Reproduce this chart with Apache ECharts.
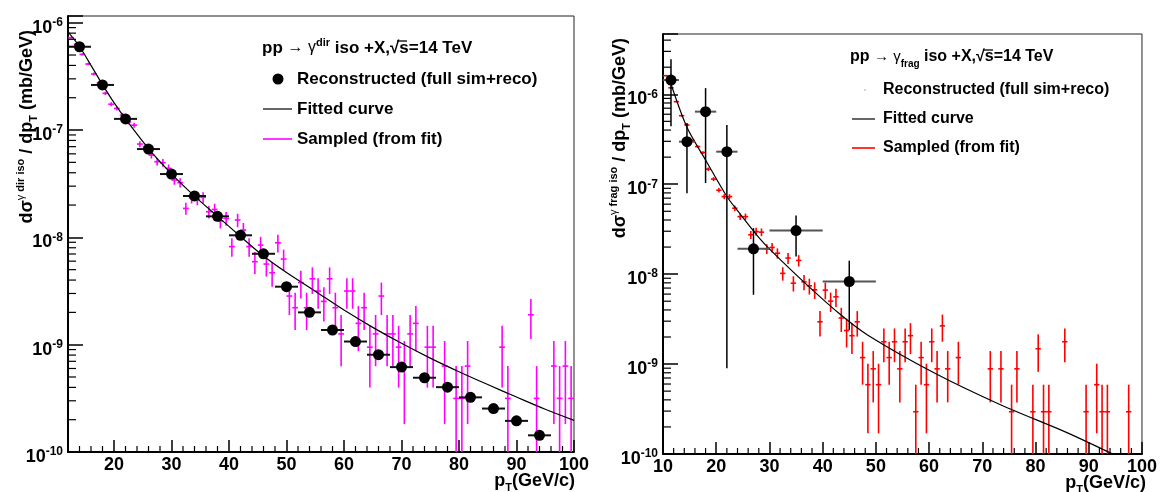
<!DOCTYPE html>
<html><head><meta charset="utf-8">
<script src="https://cdn.jsdelivr.net/npm/echarts@6/dist/echarts.min.js"></script>
<style>html,body{margin:0;padding:0;background:#fff}#c{width:1160px;height:492px}</style>
</head><body><div id="c"></div>
<script>
// ---------------- DATA ----------------
// Left panel: pp -> gamma^dir iso
const dirRecoX = [14,18,22,26,30,34,38,42,46,50,54,58,62,66,70,74,78,82,86,90,94];
const dirRecoY = [5.97e-7,2.63e-7,1.27e-7,6.65e-8,3.89e-8,2.43e-8,1.57e-8,1.045e-8,7.03e-9,3.47e-9,2.0e-9,1.37e-9,1.07e-9,8.06e-10,6.18e-10,4.92e-10,4.02e-10,3.23e-10,2.54e-10,1.95e-10,1.43e-10];
const dirRecoXErr = [2,2,2,2,2,2,2,2,2,2,2,2,2,2,2,2,2,2,2,2,2];

const dirFitX = [12,14,16,18,20,22,26,30,34,38,42,46,50,55,60,65,70,75,80,85,90,95,100];
const dirFitY = [8.2e-7,6.0e-7,4.0e-7,2.65e-7,1.8e-7,1.27e-7,6.7e-8,3.9e-8,2.42e-8,1.57e-8,1.02e-8,6.7e-9,4.7e-9,3.15e-9,2.1e-9,1.45e-9,1.03e-9,7.5e-10,5.6e-10,4.25e-10,3.25e-10,2.5e-10,1.97e-10];

const dirSampX = [12.5,13.5,14.5,15.5,16.5,17.5,18.5,19.5,20.5,21.5,
  22.5,23.5,24.5,25.5,26.5,27.5,28.5,29.5,30.5,31.5,
  32.5,33.5,34.5,35.5,36.5,37.5,38.5,39.5,40.5,41.5,
  42.5,43.5,44.5,45.5,46.5,47.5,48.5,49.5,50.5,51.5,
  52.5,53.5,54.5,55.5,56.5,57.5,58.5,59.5,60.5,61.5,
  62.5,63.5,64.5,65.5,66.5,67.5,68.5,69.5,70.5,71.5,
  72.5,74.5,75.5,77.5,79.5,80.5,81.5,87.5,88.5,92.5,93.5,96.5,97.5,98.5,99.5];
const dirSampY = [7.25e-7,6.3e-7,5.07e-7,4.12e-7,3.33e-7,2.75e-7,2.2e-7,1.74e-7,1.59e-7,1.38e-7,
  1.19e-7,1.11e-7,7.4e-8,6.98e-8,5.85e-8,5.07e-8,4.96e-8,4.4e-8,3.42e-8,3.23e-8,
  1.86e-8,2.34e-8,2.26e-8,2.36e-8,1.73e-8,1.82e-8,1.42e-8,1.5e-8,8.2e-9,1.45e-8,
  1.17e-8,8.2e-9,5.93e-9,8.47e-9,5.64e-9,4.68e-9,8.9e-9,6.28e-9,2.84e-9,2.21e-9,
  3.79e-9,2.21e-9,4.11e-9,3.16e-9,2.53e-9,4.11e-9,2.21e-9,1.26e-9,3.16e-9,3.16e-9,
  1.58e-9,2.21e-9,9.48e-10,1.26e-9,2.84e-9,1.26e-9,1.26e-9,9.48e-10,6.32e-10,1.26e-9,
  1.58e-9,9.48e-10,9.48e-10,6.32e-10,3.16e-10,3.16e-10,6.32e-10,9.48e-10,3.16e-10,1.9e-9,3.16e-10,6.32e-10,3.16e-10,6.32e-10,3.16e-10];
const dirSampErr = [1.51e-8,1.41e-8,1.27e-8,1.14e-8,1.03e-8,9.3e-9,8.3e-9,7.4e-9,7.1e-9,6.6e-9,
  6.1e-9,5.9e-9,4.8e-9,4.7e-9,4.3e-9,4.0e-9,4.0e-9,3.7e-9,3.3e-9,3.2e-9,
  2.4e-9,2.7e-9,2.7e-9,2.7e-9,2.3e-9,2.4e-9,2.1e-9,2.2e-9,1.6e-9,2.1e-9,
  1.9e-9,1.6e-9,1.37e-9,1.64e-9,1.33e-9,1.22e-9,1.68e-9,1.41e-9,9.5e-10,8.4e-10,
  1.09e-9,8.4e-10,1.14e-9,1.0e-9,8.9e-10,1.14e-9,8.4e-10,6.3e-10,1.0e-9,1.0e-9,
  7.1e-10,8.4e-10,5.5e-10,6.3e-10,9.5e-10,6.3e-10,6.3e-10,5.5e-10,4.5e-10,6.3e-10,
  7.1e-10,5.5e-10,5.5e-10,4.5e-10,3.16e-10,3.16e-10,4.5e-10,5.5e-10,3.16e-10,7.7e-10,3.16e-10,4.5e-10,3.16e-10,4.5e-10,3.16e-10];

// Right panel: pp -> gamma_frag iso
const fragRecoX = [11.5,14.5,18,22,27,35,45];
const fragRecoY = [1.44e-6,2.97e-7,6.41e-7,2.3e-7,1.91e-8,3.05e-8,8.28e-9];
const fragRecoXErr = [1.5,1.5,2,2,3,5,5];
const fragRecoYLow = [4.4e-7,7.94e-8,1.03e-7,8.98e-10,5.89e-9,1.57e-8,2.4e-9];
const fragRecoYHigh = [2.45e-6,4.8e-7,1.17e-6,4.56e-7,3.24e-8,4.48e-8,1.41e-8];

const fragFitX = [11.5,14.5,18,22,24.3,28.4,30.5,36.7,43,48.5,61,73.4,85.8,94.5,100];
const fragFitY = [1.3e-6,4.3e-7,1.86e-7,7.3e-8,4.83e-8,2.4e-8,1.78e-8,7.94e-9,3.69e-9,2.09e-9,7.94e-10,3.53e-10,1.74e-10,1.0e-10,7.1e-11];

const fragSampX = [10.5,11.5,12.5,13.5,14.5,15.5,16.5,17.5,18.5,19.5,
  20.5,21.5,22.5,23.5,24.5,25.5,26.5,27.5,28.5,29.5,
  30.5,31.5,32.5,33.5,34.5,35.5,36.5,37.5,38.5,39.5,
  40.5,41.5,42.5,43.5,44.5,45.5,46.5,47.5,48.5,49.5,
  50.5,51.5,52.5,53.5,54.5,55.5,56.5,57.5,58.5,59.5,
  60.5,61.5,62.5,63.5,
  65.5,71.5,73.5,75.5,76.5,79.5,80.5,81.5,82.5,85.5,89.5,91.5,92.5,93.5,97.5];
const fragSampY = [1.61e-6,1.18e-6,8.28e-7,5.78e-7,4.56e-7,3.05e-7,2.62e-7,2.25e-7,1.47e-7,1.14e-7,
  8.57e-8,7.28e-8,7.28e-8,5.41e-8,4.36e-8,4.36e-8,2.74e-8,2.97e-8,2.93e-8,1.91e-8,
  1.98e-8,1.71e-8,1.02e-8,1.51e-8,7.94e-9,1.42e-8,8.2e-9,7.41e-9,6.7e-9,2.95e-9,
  6.64e-9,5.01e-9,5.6e-9,3.25e-9,2.36e-9,2.07e-9,2.95e-9,1.18e-9,5.9e-10,8.85e-10,
  5.9e-10,1.77e-9,1.18e-9,1.77e-9,8.85e-10,1.77e-9,2.07e-9,2.95e-10,1.18e-9,5.9e-10,
  1.77e-9,8.85e-10,2.66e-9,8.85e-10,
  1.18e-9,8.85e-10,8.85e-10,2.95e-10,8.85e-10,2.95e-10,1.48e-9,2.95e-10,2.95e-10,1.77e-9,2.95e-10,5.9e-10,2.95e-10,2.95e-10,2.95e-10];
const fragSampErr = [2.18e-8,1.87e-8,1.56e-8,1.31e-8,1.16e-8,9.5e-9,8.8e-9,8.2e-9,6.6e-9,5.8e-9,
  5.0e-9,4.6e-9,4.6e-9,4.0e-9,3.6e-9,3.6e-9,2.8e-9,3.0e-9,2.9e-9,2.4e-9,
  2.4e-9,2.25e-9,1.73e-9,2.11e-9,1.53e-9,2.05e-9,1.56e-9,1.48e-9,1.41e-9,9.3e-10,
  1.4e-9,1.22e-9,1.29e-9,9.8e-10,8.3e-10,7.8e-10,9.3e-10,5.9e-10,4.2e-10,5.1e-10,
  4.2e-10,7.2e-10,5.9e-10,7.2e-10,5.1e-10,7.2e-10,7.8e-10,2.95e-10,5.9e-10,4.2e-10,
  7.2e-10,5.1e-10,8.9e-10,5.1e-10,
  5.9e-10,5.1e-10,5.1e-10,2.95e-10,5.1e-10,2.95e-10,6.6e-10,2.95e-10,2.95e-10,7.2e-10,2.95e-10,4.2e-10,2.95e-10,2.95e-10,2.95e-10];

// axis tick labels
const leftXTicks = [20,30,40,50,60,70,80,90,100];
const rightXTicks = [10,20,30,40,50,60,70,80,90,100];

// ---------------- RENDERING ----------------
const FONT = 'Liberation Sans, Arial, Helvetica, sans-serif';
const L = {xMin:12, xMax:100, yMin:1e-10, yMax:1.155e-6};
const R = {xMin:10, xMax:100, yMin:1e-10, yMax:4.68e-6};

function expLabel(v){
  const e = Math.log10(v), r = Math.round(e);
  if (Math.abs(e - r) > 1e-6) return '';
  return '{b|10}{s|' + r + '}';
}
const yRich = {
  b:{fontSize:18,fontWeight:'bold',fontFamily:FONT,color:'#000',lineHeight:22},
  s:{fontSize:12,fontWeight:'bold',fontFamily:FONT,color:'#000',lineHeight:10,verticalAlign:'top'}
};
function yAxisCfg(gi, lim){
  return {type:'log', logBase:10, gridIndex:gi, min:lim.yMin, max:lim.yMax,
    axisLine:{show:true,onZero:false,lineStyle:{color:'#000',width:2}},
    axisTick:{show:true,inside:true,length:15,lineStyle:{color:'#000',width:1.5}},
    axisLabel:{formatter:expLabel,margin:5,padding:[10,0,0,0],rich:yRich},
    splitLine:{show:false}, minorTick:{show:false}};
}
function xAxisCfg(gi, lim, ticks){
  return {type:'value', gridIndex:gi, min:lim.xMin, max:lim.xMax,
    axisLine:{show:true,onZero:false,lineStyle:{color:'#000',width:2}},
    axisTick:{show:true,inside:true,length:12,customValues:ticks,lineStyle:{color:'#000',width:1.5}},
    axisLabel:{customValues:ticks,margin:4,fontSize:18,fontWeight:'bold',fontFamily:FONT,color:'#000'},
    splitLine:{show:false}};
}

// minor ticks (axis decoration: 2..9 x 10^n on y, every 2 GeV on x)
function minorY(lim){
  const out=[];
  for (let e=-10;e<=-5;e++) for (let k=2;k<=9;k++){ const v=k*Math.pow(10,e); if (v<lim.yMax) out.push([lim.xMin, v]); }
  return out;
}
function minorX(lim){
  const out=[];
  for (let v=lim.xMin+2; v<lim.xMax; v+=2) if (v%10!==0) out.push([v, lim.yMin]);
  return out;
}
function tickSeries(gi, data, dx, dy){
  return {type:'custom', xAxisIndex:gi, yAxisIndex:gi, data:data, silent:true, z:6, clip:false,
    renderItem:function(p, api){
      const c = api.coord([api.value(0), api.value(1)]);
      return {type:'line', shape:{x1:c[0],y1:c[1],x2:c[0]+dx,y2:c[1]+dy}, style:{stroke:'#000',lineWidth:1.2}};
    }};
}
function crossSeries(gi, xs, ys, es, halfW, color, lim){
  return {type:'custom', xAxisIndex:gi, yAxisIndex:gi, silent:true, z:2,
    data: xs.map((x,i)=>[x, ys[i], es[i]]), encode:{x:0,y:1},
    renderItem:function(p, api){
      const x=api.value(0), y=api.value(1), e=api.value(2);
      const lo=Math.max(y-e, lim.yMin), hi=Math.min(y+e, lim.yMax);
      const a=api.coord([x,lo]), b=api.coord([x,hi]);
      const l=api.coord([Math.max(x-halfW,lim.xMin),y]), r=api.coord([Math.min(x+halfW,lim.xMax),y]);
      return {type:'group', children:[
        {type:'line', shape:{x1:a[0],y1:a[1],x2:b[0],y2:b[1]}, style:{stroke:color,lineWidth:1.6}},
        {type:'line', shape:{x1:l[0],y1:l[1],x2:r[0],y2:r[1]}, style:{stroke:color,lineWidth:1.6}}
      ]};
    }};
}
function recoSeries(gi, xs, ys, xe, lows, highs, hColor, lim){
  return {type:'custom', xAxisIndex:gi, yAxisIndex:gi, silent:true, z:5,
    data: xs.map((x,i)=>[x, ys[i], xe[i], lows?lows[i]:ys[i], highs?highs[i]:ys[i]]), encode:{x:0,y:1},
    renderItem:function(p, api){
      const x=api.value(0), y=api.value(1), w=api.value(2), lo=Math.max(api.value(3),lim.yMin), hi=Math.min(api.value(4),lim.yMax);
      const c=api.coord([x,y]);
      const l=api.coord([Math.max(x-w,lim.xMin),y]), r=api.coord([Math.min(x+w,lim.xMax),y]);
      const a=api.coord([x,lo]), b=api.coord([x,hi]);
      return {type:'group', children:[
        {type:'line', shape:{x1:l[0],y1:l[1],x2:r[0],y2:r[1]}, style:{stroke:hColor,lineWidth:2}},
        {type:'line', shape:{x1:a[0],y1:a[1],x2:b[0],y2:b[1]}, style:{stroke:'#000',lineWidth:1.5}},
        {type:'circle', shape:{cx:c[0],cy:c[1],r:5.5}, style:{fill:'#000'}}
      ]};
    }};
}
function fitSeries(gi, xs, ys){
  return {type:'line', xAxisIndex:gi, yAxisIndex:gi, data: xs.map((x,i)=>[x, ys[i]]),
    showSymbol:false, symbol:'none', smooth:0.3, clip:true, silent:true, z:4,
    lineStyle:{color:'#000', width:1.2}};
}

// text helpers
const mainT = (fs)=>({fontSize:fs,fontWeight:'bold',fontFamily:FONT,fill:'#000',color:'#000',lineHeight:24});
const supT = (fs)=>({fontSize:fs,fontWeight:'bold',fontFamily:FONT,fill:'#000',color:'#000',lineHeight:11,verticalAlign:'top'});
const subT = (fs)=>({fontSize:fs,fontWeight:'bold',fontFamily:FONT,fill:'#000',color:'#000',lineHeight:11,verticalAlign:'bottom'});
const regT = (fs)=>({fontSize:fs,fontFamily:FONT,fill:'#000',color:'#000',lineHeight:24});

function yTitle(x, y, supText){
  return {type:'text', x:x, y:y, rotation:Math.PI/2, silent:true,
    style:{text:'{m|dσ}{g|γ}{s| '+supText+'}{m| / dp}{t|T}{m| (mb/GeV)}', align:'right', verticalAlign:'middle',
      rich:{m:mainT(18), g:{fontSize:11,fontFamily:FONT,fill:'#000',lineHeight:11,verticalAlign:'top'}, s:supT(11), t:subT(11)}}};
}
function xTitle(x, y){
  return {type:'text', x:x, y:y, silent:true,
    style:{text:'{m|p}{t|T}{m|(GeV/c)}', align:'right', verticalAlign:'middle',
      rich:{m:mainT(18), t:subT(11)}}};
}

const graphic = [
  yTitle(27, 30, 'dir iso'),
  yTitle(620, 38, 'frag iso'),
  xTitle(575, 481),
  xTitle(1146, 483),
  // left legend
  {type:'text', x:262, y:48, silent:true, style:{text:'{b|pp }{a|→ γ}{s|dir}{b| iso +X,√s=14 TeV}', verticalAlign:'middle',
    rich:{b:Object.assign(mainT(17),{lineHeight:22}), a:Object.assign(regT(16),{lineHeight:22}), s:supT(11)}}},
  {type:'line', shape:{x1:397,y1:41,x2:407,y2:41}, style:{stroke:'#000',lineWidth:1.3}},
  {type:'circle', shape:{cx:278, cy:79, r:5.5}, style:{fill:'#000'}},
  {type:'text', x:297, y:79, style:{text:'Reconstructed (full sim+reco)', font:'bold 17px '+FONT, fill:'#000', verticalAlign:'middle'}},
  {type:'line', shape:{x1:263,y1:109,x2:292,y2:109}, style:{stroke:'#000',lineWidth:1.2}},
  {type:'text', x:297, y:109, style:{text:'Fitted curve', font:'bold 17px '+FONT, fill:'#000', verticalAlign:'middle'}},
  {type:'line', shape:{x1:263,y1:139,x2:292,y2:139}, style:{stroke:'#f0f',lineWidth:1.6}},
  {type:'text', x:297, y:139, style:{text:'Sampled (from fit)', font:'bold 17px '+FONT, fill:'#000', verticalAlign:'middle'}},
  // right legend
  {type:'text', x:850, y:57, silent:true, style:{text:'{b|pp }{a|→ γ}{t|frag}{b| iso +X,√s=14 TeV}', verticalAlign:'middle',
    rich:{b:Object.assign(mainT(16),{lineHeight:24}), a:Object.assign(regT(15),{lineHeight:24}), t:subT(10)}}},
  {type:'line', shape:{x1:984,y1:50,x2:993,y2:50}, style:{stroke:'#000',lineWidth:1.3}},
  {type:'circle', shape:{cx:865, cy:90, r:0.8}, style:{fill:'#999'}},
  {type:'text', x:883, y:90, style:{text:'Reconstructed (full sim+reco)', font:'bold 16px '+FONT, fill:'#000', verticalAlign:'middle'}},
  {type:'line', shape:{x1:852,y1:119,x2:875,y2:119}, style:{stroke:'#000',lineWidth:1.2}},
  {type:'text', x:883, y:119, style:{text:'Fitted curve', font:'bold 16px '+FONT, fill:'#000', verticalAlign:'middle'}},
  {type:'line', shape:{x1:852,y1:148,x2:875,y2:148}, style:{stroke:'#f00',lineWidth:1.6}},
  {type:'text', x:883, y:148, style:{text:'Sampled (from fit)', font:'bold 16px '+FONT, fill:'#000', verticalAlign:'middle'}}
];

const chart = echarts.init(document.getElementById('c'), null, {renderer:'canvas'});
chart.setOption({
  animation:false,
  backgroundColor:'#fff',
  grid:[
    {left:68, top:16, width:506, height:436, show:true, borderColor:'#222', borderWidth:1},
    {left:663, top:34, width:483, height:420, show:true, borderColor:'#222', borderWidth:1}
  ],
  xAxis:[ xAxisCfg(0, L, leftXTicks), xAxisCfg(1, R, rightXTicks) ],
  yAxis:[ yAxisCfg(0, L), yAxisCfg(1, R) ],
  series:[
    tickSeries(0, minorY(L), 8, 0),
    tickSeries(0, minorX(L), 0, -6),
    tickSeries(1, minorY(R), 8, 0),
    tickSeries(1, minorX(R), 0, -6),
    crossSeries(0, dirSampX, dirSampY, dirSampErr, 0.5, '#ff00ff', L),
    fitSeries(0, dirFitX, dirFitY),
    recoSeries(0, dirRecoX, dirRecoY, dirRecoXErr, null, null, '#111', L),
    crossSeries(1, fragSampX, fragSampY, fragSampErr, 0.5, '#ff0000', R),
    fitSeries(1, fragFitX, fragFitY),
    recoSeries(1, fragRecoX, fragRecoY, fragRecoXErr, fragRecoYLow, fragRecoYHigh, '#555', R)
  ],
  graphic: graphic
});
</script>
</body></html>
